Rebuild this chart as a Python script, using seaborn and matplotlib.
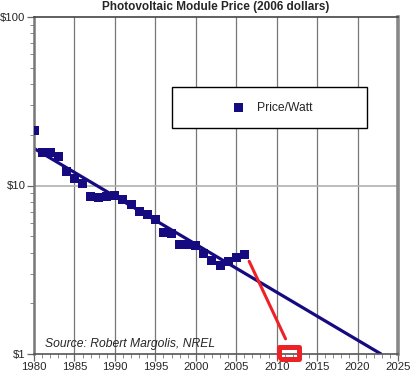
import matplotlib
matplotlib.use("Agg")
import matplotlib.pyplot as plt
from matplotlib.patches import Rectangle
from matplotlib.ticker import FixedLocator, MultipleLocator, LogLocator, NullFormatter
import seaborn as sns
import pandas as pd

# module price per watt, 2006 dollars
years = list(range(1980, 2007))
prices = [21.2, 15.7, 15.7, 14.8, 12.1, 11.0, 10.3, 8.6, 8.5, 8.6, 8.7, 8.27,
          7.72, 7.0, 6.74, 6.3, 5.27, 5.2, 4.48, 4.48, 4.4, 3.96, 3.6, 3.36,
          3.55, 3.75, 3.9]

# fitted trend
trend_years = [1980, 2022.9]
trend_prices = [16.6, 1.0]

# red projection and target
proj_years = [2006.6, 2011.1]
proj_prices = [3.55, 1.23]
target_year = [2011.5]
target_price = [1.02]

df = pd.DataFrame({"year": years, "price": prices})
trend = pd.DataFrame({"year": trend_years, "price": trend_prices})
proj = pd.DataFrame({"year": proj_years, "price": proj_prices})

sns.set_style("white")
plt.rcParams["font.family"] = ["Liberation Sans", "DejaVu Sans"]

navy = "#160a80"
red = "#ec2227"

fig = plt.figure(figsize=(4.12, 3.77), dpi=100)
ax = fig.add_axes([34 / 412, 23 / 377, 364 / 412, 337 / 377])

ax.set_yscale("log")
ax.set_xlim(1980, 2025)
ax.set_ylim(1, 100)

# grid
for x in range(1985, 2025, 5):
    ax.axvline(x, color="#777777", lw=0.9, zorder=0)
ax.axhline(10, color="#b0b0b0", lw=1.2, zorder=0)

sns.lineplot(data=trend, x="year", y="price", ax=ax, color=navy, lw=2.3, zorder=2)
sns.scatterplot(data=df, x="year", y="price", ax=ax, marker="s", s=42,
                color=navy, edgecolor="none", zorder=3, label="Price/Watt",
                legend=False)
sns.lineplot(data=proj, x="year", y="price", ax=ax, color=red, lw=2.2, zorder=4)
rect_marker = [(-1, -0.63), (1, -0.63), (1, 0.63), (-1, 0.63), (-1, -0.63)]
ax.plot(target_year, target_price, marker=rect_marker, ms=13.7, mfc="none",
        mec=red, mew=3.6, ls="none", clip_on=False, zorder=5)

# ticks
ax.xaxis.set_major_locator(MultipleLocator(5))
ax.xaxis.set_minor_locator(MultipleLocator(1))
ax.yaxis.set_major_locator(FixedLocator([1, 10, 100]))
ax.yaxis.set_minor_locator(LogLocator(base=10, subs=range(2, 10)))
ax.yaxis.set_minor_formatter(NullFormatter())
ax.set_yticklabels(["$1", "$10", "$100"])
ax.tick_params(axis="both", which="major", direction="out", length=5,
               width=0.9, color="#666666", labelsize=8.2, pad=1, left=True, bottom=True)
ax.tick_params(axis="both", which="minor", direction="out", length=3,
               width=0.7, color="#888888", left=True, bottom=True)
ax.set_xlabel("")
ax.set_ylabel("")

for side, col, w in [("left", "#777777", 1.8), ("bottom", "#555555", 1.2),
                     ("top", "#444444", 1.2), ("right", "#888888", 2.6)]:
    ax.spines[side].set_color(col)
    ax.spines[side].set_linewidth(w)

ax.set_title("Photovoltaic Module Price (2006 dollars)", fontsize=8.5,
             fontweight="bold", pad=5)

# legend box
ax.add_patch(Rectangle((0.379, 0.671), 0.536, 0.121, transform=ax.transAxes,
                       facecolor="white", edgecolor="black", lw=1, zorder=6))
handles, labels = ax.get_legend_handles_labels()
ax.legend(handles, labels, loc="center", bbox_to_anchor=(0.647, 0.731),
          frameon=False, fontsize=8.7, handletextpad=0.6, markerscale=1.0)
ax.get_legend().set_zorder(7)

ax.text(0.030, 0.021, "Source: Robert Margolis, NREL", transform=ax.transAxes,
        fontsize=8.7, style="italic", ha="left", va="baseline")

fig.savefig("out.png", dpi=100)
